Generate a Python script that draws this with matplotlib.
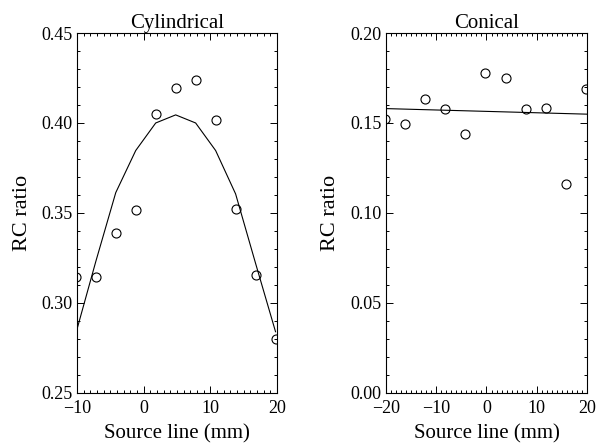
import numpy as np
import matplotlib
matplotlib.use("Agg")
import matplotlib.pyplot as plt
from matplotlib.ticker import MultipleLocator, FormatStrFormatter

plt.rcParams['font.family'] = ['Liberation Serif', 'DejaVu Serif']
plt.rcParams['axes.unicode_minus'] = True

# Cylindrical phantom: measured points and fitted curve
cyl_x = [-10.2, -7.2, -4.2, -1.2, 1.8, 4.8, 7.8, 10.8, 13.8, 16.8, 19.8]
cyl_ratio = [0.3142, 0.3142, 0.339, 0.3515, 0.4049, 0.4196, 0.424, 0.4017, 0.352, 0.3153, 0.2797]
cyl_fit = [0.283, 0.323, 0.3613, 0.3847, 0.400, 0.4045, 0.400, 0.3847, 0.3606, 0.322, 0.284]

# Conical phantom: measured points and linear fit
con_x = [-20.2, -16.2, -12.2, -8.2, -4.2, -0.2, 3.8, 7.8, 11.8, 15.8, 19.8]
con_ratio = [0.152, 0.1493, 0.1632, 0.158, 0.144, 0.178, 0.175, 0.158, 0.1583, 0.116, 0.1689]
con_fit_x = [-20, 20]
con_fit = [0.158, 0.1549]

fig = plt.figure(figsize=(5.98, 4.46), dpi=100)
ax1 = fig.add_axes([0.129, 0.119, 0.334, 0.807])
ax2 = fig.add_axes([0.645, 0.119, 0.337, 0.807])


def style(ax, title):
    ax.set_title(title, fontsize=15, pad=2)
    ax.set_xlabel('Source line (mm)', fontsize=15, labelpad=5)
    ax.set_ylabel('RC ratio', fontsize=16, labelpad=7)
    ax.xaxis.set_major_locator(MultipleLocator(10))
    ax.xaxis.set_minor_locator(MultipleLocator(1))
    ax.yaxis.set_major_locator(MultipleLocator(0.05))
    ax.yaxis.set_minor_locator(MultipleLocator(0.01))
    ax.yaxis.set_major_formatter(FormatStrFormatter('%.2f'))
    ax.tick_params(which='both', direction='in', top=True, right=True,
                   labelsize=13, width=0.7, colors='black')
    ax.tick_params(which='major', length=5)
    ax.tick_params(axis='y', which='major', pad=3)
    ax.tick_params(axis='x', which='major', pad=5)
    ax.tick_params(which='minor', length=2.5)
    for s in ax.spines.values():
        s.set_linewidth(0.8)


ax1.plot(cyl_x, cyl_fit, color='black', lw=0.8)
ax1.plot(cyl_x, cyl_ratio, 'o', mfc='none', mec='black', ms=6.5, mew=0.8)
ax1.set_xlim(-10, 20)
ax1.set_ylim(0.25, 0.45)
style(ax1, 'Cylindrical')

ax2.plot(con_fit_x, con_fit, color='black', lw=0.8)
ax2.plot(con_x, con_ratio, 'o', mfc='none', mec='black', ms=6.5, mew=0.8)
ax2.set_xlim(-20, 20)
ax2.set_ylim(0.0, 0.20)
style(ax2, 'Conical')

fig.savefig('out.png', dpi=100)
